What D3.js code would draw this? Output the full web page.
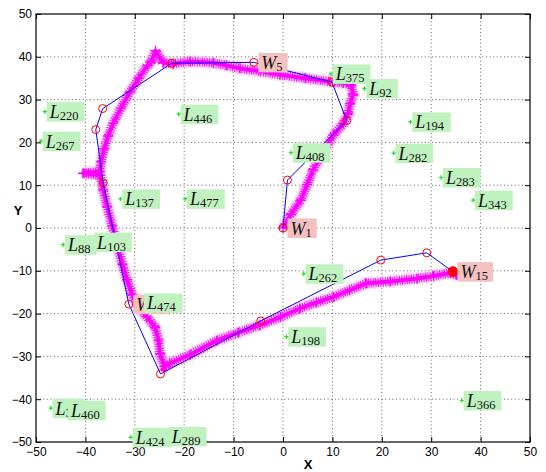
<!DOCTYPE html>
<html>
<head>
<meta charset="utf-8">
<script src="https://cdn.jsdelivr.net/npm/d3@7/dist/d3.min.js"></script>
<style>
  body { margin: 0; background: #fff; }
</style>
</head>
<body>
<div id="chart"></div>
<script>
const ticks = [-50, -40, -30, -20, -10, 0, 10, 20, 30, 40, 50];

// estimated robot path (x, y)
const trajectory = [
  [0, 0], [1.6, 3.2], [3.6, 6.5], [4.9, 10.2], [6.1, 13.6], [8.2, 17.8], [10.2, 21.7],
  [12.2, 24.4], [13.2, 26.8], [13.6, 29.1], [14.2, 31.2], [13.8, 33.4], [12.2, 33.9],
  [9.5, 34.2], [4.5, 35.0], [-0.6, 35.8], [-4.6, 36.6], [-8.7, 37.3], [-11.5, 38.0],
  [-14.1, 38.6], [-18.8, 38.9], [-22.2, 38.4], [-24.3, 38.6], [-25.8, 41.4], [-26.6, 39.0],
  [-27.4, 38.0], [-29.2, 35.0], [-31.0, 31.8], [-32.8, 28.0], [-34.4, 24.5], [-35.4, 21.5],
  [-36.2, 18.5], [-36.8, 15.5], [-37.1, 13.2], [-40.5, 12.8], [-37.0, 12.3], [-36.4, 8.9],
  [-35.6, 5.0], [-34.6, 0.5], [-33.4, -4.6], [-32.5, -8.5], [-31.6, -12.1], [-30.5, -15.6],
  [-29.2, -18.6], [-27.6, -20.7], [-25.9, -23.2], [-25.2, -26.2], [-24.9, -29.3],
  [-24.0, -32.4], [-22.9, -31.6], [-18.8, -29.6], [-13.4, -26.3], [-9.0, -24.4],
  [-4.7, -22.7], [-0.5, -20.8], [3.4, -18.8], [6.8, -17.4], [10.2, -16.1], [13.5, -14.5],
  [16.9, -12.9], [21.7, -12.5], [27.1, -11.8], [30.5, -11.2], [33.8, -10.5], [35.2, -11.0],
  [34.4, -10.2],
];

const waypoints = [
  [0, 0], [0.9, 11.2], [12.9, 25.1], [9.9, 34.1], [-5.9, 38.7], [-22.5, 38.5],
  [-36.5, 27.9], [-37.9, 23.0], [-36.4, 10.6], [-31.2, -17.8], [-24.8, -34.1],
  [-4.5, -21.7], [19.8, -7.5], [29.1, -5.8], [34.4, -10.2],
];

const waypointLabels = [
  { index: 0, sub: '1' },
  { index: 4, sub: '5' },
  { index: 9, sub: '10' },
  { index: 14, sub: '15' },
];

const landmarks = [
  { id: '220', x: -48.2, y: 27.2 },
  { id: '267', x: -49.0, y: 20.3 },
  { id: '446', x: -21.1, y: 26.6 },
  { id: '137', x: -32.9, y: 6.8 },
  { id: '477', x: -19.8, y: 6.8 },
  { id: '375', x: 9.7, y: 36.0 },
  { id: '92', x: 16.5, y: 32.6 },
  { id: '194', x: 25.8, y: 24.8 },
  { id: '408', x: 1.6, y: 17.6 },
  { id: '282', x: 22.4, y: 17.5 },
  { id: '283', x: 32.0, y: 11.8 },
  { id: '343', x: 38.5, y: 6.5 },
  { id: '88', x: -44.5, y: -3.9 },
  { id: '103', x: -38.6, y: -3.3 },
  { id: '474', x: -28.5, y: -17.5 },
  { id: '262', x: 4.2, y: -10.7 },
  { id: '198', x: 0.7, y: -25.4 },
  { id: '366', x: 36.2, y: -40.3 },
  { id: '31', x: -47.0, y: -42.1 },
  { id: '460', x: -43.9, y: -42.6 },
  { id: '424', x: -30.8, y: -48.9 },
  { id: '289', x: -23.5, y: -48.7 },
];

const size = { width: 546, height: 472 };
const margin = { top: 14, right: 16, bottom: 30, left: 36 };

const svg = d3.select('#chart')
  .append('svg')
  .attr('width', size.width)
  .attr('height', size.height);

const x = d3.scaleLinear().domain([-50, 50]).range([margin.left, size.width - margin.right]);
const y = d3.scaleLinear().domain([-50, 50]).range([size.height - margin.bottom, margin.top]);

const x0 = x.range()[0], x1 = x.range()[1];
const yb = y.range()[0], yt = y.range()[1];

// dotted grid
const inner = ticks.filter((t) => t > -50 && t < 50);
const grid = svg.append('g')
  .attr('stroke', '#555')
  .attr('stroke-width', 0.9)
  .attr('stroke-dasharray', '1,2.6');
grid.selectAll('.gx').data(inner).join('line')
  .attr('x1', (d) => x(d)).attr('x2', (d) => x(d))
  .attr('y1', yt).attr('y2', yb);
grid.selectAll('.gy').data(inner).join('line')
  .attr('y1', (d) => y(d)).attr('y2', (d) => y(d))
  .attr('x1', x0).attr('x2', x1);

// axes, ticks pointing inward
const styleAxis = (g) => {
  g.select('.domain').remove();
  g.selectAll('.tick line').attr('stroke', '#000');
  g.selectAll('.tick text')
    .attr('fill', '#000')
    .style('font-family', "'Liberation Sans', Arial, sans-serif")
    .style('font-size', '12px');
};

svg.append('g')
  .attr('transform', `translate(0,${yb})`)
  .call(d3.axisBottom(x).tickValues(ticks).tickSizeInner(-5).tickSizeOuter(0).tickPadding(5))
  .call(styleAxis);
svg.append('g')
  .attr('transform', `translate(${x0},0)`)
  .call(d3.axisLeft(y).tickValues(ticks).tickSizeInner(-5).tickSizeOuter(0).tickPadding(4))
  .call(styleAxis);
svg.append('g')
  .attr('transform', `translate(0,${yt})`)
  .call(d3.axisTop(x).tickValues(ticks).tickSizeInner(-5).tickSizeOuter(0).tickFormat(''))
  .call(styleAxis);
svg.append('g')
  .attr('transform', `translate(${x1},0)`)
  .call(d3.axisRight(y).tickValues(ticks).tickSizeInner(-5).tickSizeOuter(0).tickFormat(''))
  .call(styleAxis);

svg.append('rect')
  .attr('x', x0).attr('y', yt)
  .attr('width', x1 - x0).attr('height', yb - yt)
  .attr('fill', 'none')
  .attr('stroke', '#000')
  .attr('stroke-width', 1.2);

svg.append('text')
  .text('X')
  .attr('x', 308).attr('y', 469)
  .attr('text-anchor', 'middle')
  .style('font-family', "'Liberation Sans', Arial, sans-serif")
  .style('font-weight', 'bold')
  .style('font-size', '13px');
svg.append('text')
  .text('Y')
  .attr('x', 18).attr('y', 215)
  .attr('text-anchor', 'middle')
  .style('font-family', "'Liberation Sans', Arial, sans-serif")
  .style('font-weight', 'bold')
  .style('font-size', '13px');

// landmark markers
const plus = (s) => `M${-s},0H${s}M0,${-s}V${s}`;
svg.append('g')
  .selectAll('path')
  .data(landmarks)
  .join('path')
  .attr('transform', (d) => `translate(${x(d.x)},${y(d.y)})`)
  .attr('d', plus(2.2))
  .attr('stroke', '#22dd22')
  .attr('stroke-width', 1.2);

// estimated path
const line = d3.line().x((d) => x(d[0])).y((d) => y(d[1]));

svg.append('path')
  .attr('d', line(trajectory))
  .attr('fill', 'none')
  .attr('stroke', '#ff77ff')
  .attr('stroke-width', 13)
  .attr('stroke-opacity', 0.5)
  .attr('stroke-dasharray', '1.2,1.6')
  .attr('stroke-linejoin', 'round');
svg.append('path')
  .attr('d', line(trajectory))
  .attr('fill', 'none')
  .attr('stroke', '#ff00ff')
  .attr('stroke-width', 9)
  .attr('stroke-dasharray', '1.1,1.3')
  .attr('stroke-linejoin', 'round');
svg.append('path')
  .attr('d', line(trajectory))
  .attr('fill', 'none')
  .attr('stroke', '#ff00ff')
  .attr('stroke-width', 4)
  .attr('stroke-linejoin', 'round');
svg.append('g')
  .selectAll('path')
  .data(trajectory)
  .join('path')
  .attr('transform', (d) => `translate(${x(d[0])},${y(d[1])})`)
  .attr('d', plus(5))
  .attr('stroke', '#ff00ff')
  .attr('stroke-width', 1.4);

// planned waypoints
svg.append('path')
  .attr('d', line(waypoints))
  .attr('fill', 'none')
  .attr('stroke', '#0000ff')
  .attr('stroke-width', 1);
svg.append('g')
  .selectAll('circle')
  .data(waypoints)
  .join('circle')
  .attr('cx', (d) => x(d[0]))
  .attr('cy', (d) => y(d[1]))
  .attr('r', (d, i) => (i === waypoints.length - 1 ? 4.8 : 4))
  .attr('fill', (d, i) => (i === waypoints.length - 1 ? '#ff0000' : 'none'))
  .attr('stroke', '#ff0000')
  .attr('stroke-width', 1);

// labels with coloured background
const addLabel = (px, py, letter, sub, bg, dx) => {
  const g = svg.append('g');
  const t = g.append('text')
    .attr('x', px + dx + 3)
    .attr('y', py + 6.5)
    .style('font-family', "'Liberation Serif', 'DejaVu Serif', serif")
    .attr('fill', '#111');
  t.append('tspan')
    .text(letter)
    .style('font-style', 'italic')
    .style('font-size', '18px');
  t.append('tspan')
    .text(sub)
    .attr('dy', 2)
    .style('font-size', '12.5px');
  const bb = t.node().getBBox();
  g.insert('rect', 'text')
    .attr('x', px + dx)
    .attr('y', py - 9.5)
    .attr('width', bb.width + 8)
    .attr('height', 19.5)
    .attr('fill', bg);
};

waypointLabels.forEach((w) => {
  const p = waypoints[w.index];
  addLabel(x(p[0]), y(p[1]), 'W', w.sub, '#f5c0c0', 4.5);
});
landmarks.forEach((d) => {
  addLabel(x(d.x), y(d.y), 'L', d.id, '#c0f2c0', 1.8);
});
</script>
</body>
</html>
